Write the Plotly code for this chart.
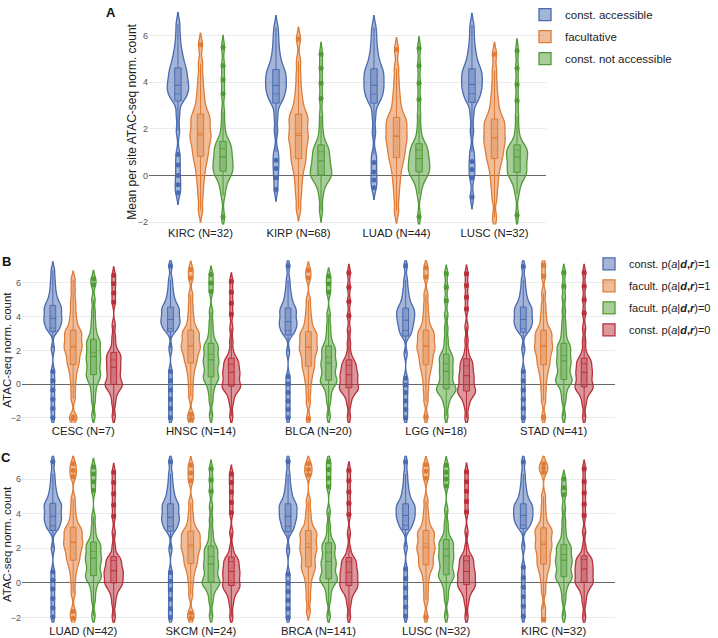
import plotly.graph_objects as go

# ---------------- data ----------------
A_CATS = ["KIRC (N=32)", "KIRP (N=68)", "LUAD (N=44)", "LUSC (N=32)"]
B_CATS = ["CESC (N=7)", "HNSC (N=14)", "BLCA (N=20)", "LGG (N=18)", "STAD (N=41)"]
C_CATS = ["LUAD (N=42)", "SKCM (N=24)", "BRCA (N=141)", "LUSC (N=32)", "KIRC (N=32)"]

A_NAMES = ["const. accessible", "facultative", "const. not accessible"]
B_NAMES = ["const. p(<i>a</i>|<b><i>d</i>,<i>r</i></b>)=1",
           "facult. p(<i>a</i>|<b><i>d</i>,<i>r</i></b>)=1",
           "facult. p(<i>a</i>|<b><i>d</i>,<i>r</i></b>)=0",
           "const. p(<i>a</i>|<b><i>d</i>,<i>r</i></b>)=0"]

# Panel A: per-site values for each cancer type (KIRC, KIRP, LUAD, LUSC)
A_ACC = [
    [-0.74, -0.4, 0.0, 0.45, 0.9, 1.9, 2.6, 3.19, 3.3, 3.42, 3.52, 3.62, 3.7, 3.79, 3.87, 3.97, 4.07, 4.18, 4.29, 4.4, 4.5, 4.61, 4.75, 4.9, 5.1, 5.3, 5.6, 6.0, 6.5],
    [-0.6, -0.1, 0.3, 0.65, 1.0, 1.9, 2.55, 3.1, 3.22, 3.35, 3.47, 3.58, 3.68, 3.77, 3.86, 3.96, 4.06, 4.16, 4.26, 4.36, 4.45, 4.54, 4.68, 4.85, 5.05, 5.3, 5.6, 5.95, 6.35],
    [-0.53, -0.2, 0.15, 0.55, 0.9, 1.85, 2.55, 3.1, 3.22, 3.35, 3.47, 3.58, 3.69, 3.78, 3.87, 3.97, 4.08, 4.19, 4.29, 4.39, 4.48, 4.57, 4.7, 4.87, 5.07, 5.3, 5.6, 5.95, 6.35],
    [-0.93, -0.1, 0.25, 0.6, 1.0, 1.9, 2.6, 3.13, 3.25, 3.38, 3.5, 3.61, 3.72, 3.81, 3.9, 4.0, 4.1, 4.2, 4.3, 4.4, 4.49, 4.57, 4.7, 4.87, 5.07, 5.3, 5.6, 6.0, 6.45],
]
A_FAC = [
    [-1.5, -0.9, -0.45, -0.1, 0.2, 0.45, 0.65, 0.82, 0.98, 1.13, 1.28, 1.43, 1.57, 1.66, 1.74, 1.88, 2.02, 2.16, 2.3, 2.43, 2.54, 2.63, 2.85, 3.1, 3.4, 3.75, 4.2, 4.8, 5.6],
    [-1.45, -0.9, -0.5, -0.15, 0.15, 0.38, 0.57, 0.72, 0.88, 1.05, 1.21, 1.37, 1.51, 1.62, 1.71, 1.86, 2.01, 2.16, 2.3, 2.43, 2.54, 2.63, 2.85, 3.1, 3.4, 3.8, 4.3, 4.9, 5.85],
    [-1.55, -0.95, -0.5, -0.15, 0.15, 0.4, 0.6, 0.76, 0.91, 1.06, 1.2, 1.34, 1.47, 1.58, 1.67, 1.8, 1.93, 2.06, 2.18, 2.3, 2.4, 2.49, 2.7, 2.95, 3.25, 3.6, 4.05, 4.6, 5.4],
    [-1.82, -1.0, -0.55, -0.2, 0.1, 0.35, 0.55, 0.72, 0.86, 1.0, 1.14, 1.28, 1.41, 1.51, 1.6, 1.73, 1.86, 1.99, 2.11, 2.23, 2.33, 2.42, 2.62, 2.86, 3.15, 3.5, 3.95, 4.5, 5.2],
]
A_NOT = [
    [-1.78, -0.85, -0.5, -0.25, -0.08, 0.03, 0.11, 0.18, 0.26, 0.34, 0.43, 0.53, 0.62, 0.7, 0.79, 0.89, 0.99, 1.1, 1.2, 1.29, 1.38, 1.46, 1.75, 2.15, 2.7, 3.5, 4.1, 4.7, 5.5],
    [-1.5, -0.9, -0.55, -0.32, -0.17, -0.08, -0.03, 0.01, 0.08, 0.16, 0.25, 0.35, 0.44, 0.53, 0.62, 0.72, 0.82, 0.93, 1.04, 1.14, 1.23, 1.31, 1.6, 2.0, 2.55, 3.3, 3.95, 4.6, 5.2],
    [-1.77, -0.8, -0.45, -0.22, -0.07, 0.03, 0.1, 0.15, 0.23, 0.31, 0.4, 0.49, 0.57, 0.65, 0.72, 0.81, 0.91, 1.01, 1.11, 1.2, 1.29, 1.36, 1.65, 2.05, 2.6, 3.25, 3.95, 4.7, 5.45],
    [-1.71, -0.8, -0.45, -0.22, -0.07, 0.02, 0.08, 0.13, 0.22, 0.32, 0.42, 0.52, 0.62, 0.71, 0.79, 0.87, 0.95, 1.03, 1.11, 1.18, 1.25, 1.31, 1.6, 2.0, 2.55, 3.2, 3.9, 4.6, 5.35],
]

# Panel B: (CESC, HNSC, BLCA, LGG, STAD)
B_C1 = [
    [-2.0, -1.45, -0.9, -0.35, 0.2, 0.75, 2.1, 3.11, 3.23, 3.37, 3.5, 3.62, 3.73, 3.82, 3.9, 4.03, 4.15, 4.27, 4.39, 4.5, 4.59, 4.67, 4.82, 5.0, 5.22, 5.5, 5.85, 6.25, 6.75],
    [-2.0, -1.45, -0.9, -0.35, 0.2, 0.75, 2.1, 3.11, 3.22, 3.35, 3.47, 3.58, 3.67, 3.75, 3.83, 3.95, 4.07, 4.19, 4.31, 4.42, 4.5, 4.57, 4.72, 4.9, 5.12, 5.4, 5.75, 6.2, 7.0],
    [-2.0, -1.5, -1.0, -0.5, 0.0, 0.45, 1.9, 2.91, 3.04, 3.17, 3.3, 3.42, 3.53, 3.62, 3.7, 3.83, 3.96, 4.09, 4.22, 4.34, 4.43, 4.51, 4.66, 4.85, 5.08, 5.36, 5.72, 6.2, 7.0],
    [-2.0, -1.5, -1.0, -0.5, -0.05, 0.35, 1.8, 2.85, 2.99, 3.14, 3.29, 3.43, 3.56, 3.68, 3.79, 3.9, 4.01, 4.12, 4.23, 4.33, 4.43, 4.51, 4.66, 4.85, 5.08, 5.36, 5.72, 6.2, 7.02],
    [-2.0, -1.45, -0.9, -0.35, 0.2, 0.75, 2.1, 3.07, 3.19, 3.32, 3.44, 3.56, 3.66, 3.75, 3.83, 3.95, 4.07, 4.19, 4.31, 4.42, 4.5, 4.57, 4.72, 4.9, 5.12, 5.4, 5.75, 6.2, 6.98],
]
B_F1 = [
    [-2.05, -1.95, -0.85, -0.3, 0.2, 0.6, 0.92, 1.15, 1.33, 1.52, 1.71, 1.89, 2.04, 2.16, 2.26, 2.4, 2.54, 2.7, 2.85, 2.99, 3.1, 3.2, 3.45, 3.75, 4.1, 4.55, 5.0, 5.6, 6.2],
    [-2.1, -1.8, -0.75, -0.2, 0.3, 0.7, 1.0, 1.25, 1.42, 1.6, 1.77, 1.94, 2.08, 2.18, 2.26, 2.4, 2.55, 2.7, 2.85, 2.99, 3.1, 3.2, 3.45, 3.8, 4.2, 4.7, 5.3, 6.3, 6.8],
    [-2.05, -1.1, -0.5, 0.0, 0.35, 0.65, 0.88, 1.06, 1.24, 1.43, 1.62, 1.8, 1.95, 2.07, 2.17, 2.31, 2.46, 2.61, 2.76, 2.9, 3.01, 3.11, 3.35, 3.65, 4.0, 4.45, 5.0, 6.3, 6.75],
    [-1.95, -1.0, -0.45, 0.0, 0.4, 0.7, 0.95, 1.15, 1.33, 1.51, 1.69, 1.86, 2.01, 2.13, 2.23, 2.37, 2.52, 2.67, 2.82, 2.96, 3.08, 3.2, 3.45, 3.8, 4.2, 4.7, 5.3, 6.35, 6.9],
    [-1.97, -1.0, -0.45, 0.0, 0.4, 0.7, 0.95, 1.15, 1.33, 1.51, 1.69, 1.86, 2.01, 2.13, 2.23, 2.37, 2.52, 2.67, 2.82, 2.96, 3.08, 3.2, 3.45, 3.8, 4.2, 4.7, 5.4, 6.4, 7.05],
]
B_F0 = [
    [-1.85, -1.0, -0.5, -0.1, 0.17, 0.35, 0.48, 0.56, 0.73, 0.9, 1.07, 1.24, 1.39, 1.52, 1.64, 1.8, 1.96, 2.12, 2.28, 2.43, 2.56, 2.66, 2.95, 3.3, 3.75, 4.3, 5.0, 5.9, 6.25],
    [-1.85, -1.0, -0.5, -0.15, 0.1, 0.26, 0.36, 0.43, 0.59, 0.76, 0.93, 1.1, 1.24, 1.35, 1.44, 1.6, 1.76, 1.92, 2.07, 2.21, 2.33, 2.42, 2.75, 3.15, 3.65, 4.3, 5.5, 6.0, 6.5],
    [-1.9, -1.05, -0.6, -0.25, -0.02, 0.1, 0.18, 0.23, 0.39, 0.56, 0.73, 0.9, 1.05, 1.16, 1.25, 1.41, 1.57, 1.73, 1.89, 2.04, 2.17, 2.27, 2.6, 3.0, 3.5, 4.15, 5.45, 5.95, 6.4],
    [-1.9, -1.25, -0.9, -0.65, -0.5, -0.4, -0.33, -0.28, -0.17, -0.04, 0.12, 0.3, 0.47, 0.63, 0.76, 0.92, 1.08, 1.24, 1.4, 1.55, 1.68, 1.78, 2.15, 2.65, 3.3, 4.1, 4.95, 5.75, 6.55],
    [-1.9, -1.0, -0.55, -0.2, 0.03, 0.15, 0.22, 0.27, 0.44, 0.62, 0.8, 0.98, 1.14, 1.27, 1.38, 1.54, 1.7, 1.86, 2.02, 2.17, 2.3, 2.42, 2.8, 3.2, 3.7, 4.35, 5.1, 5.8, 6.6],
]
B_C0 = [
    [-1.9, -1.15, -0.7, -0.4, -0.22, -0.12, -0.06, -0.02, 0.12, 0.27, 0.43, 0.59, 0.74, 0.87, 1.0, 1.14, 1.28, 1.42, 1.56, 1.69, 1.8, 1.88, 2.3, 2.8, 3.5, 4.85, 5.4, 5.95, 6.45],
    [-1.9, -1.15, -0.75, -0.48, -0.32, -0.22, -0.16, -0.12, 0.0, 0.13, 0.27, 0.41, 0.53, 0.62, 0.7, 0.82, 0.95, 1.08, 1.21, 1.34, 1.45, 1.54, 1.95, 2.55, 3.3, 4.15, 4.8, 5.45, 6.1],
    [-1.95, -1.2, -0.8, -0.55, -0.4, -0.31, -0.26, -0.22, -0.1, 0.03, 0.16, 0.29, 0.4, 0.49, 0.56, 0.68, 0.81, 0.94, 1.07, 1.2, 1.33, 1.44, 1.85, 2.45, 3.2, 4.05, 4.9, 5.75, 6.6],
    [-2.0, -1.35, -1.0, -0.75, -0.6, -0.51, -0.45, -0.41, -0.27, -0.13, 0.0, 0.14, 0.27, 0.39, 0.5, 0.63, 0.78, 0.93, 1.08, 1.23, 1.37, 1.5, 1.95, 2.6, 3.4, 4.45, 5.15, 5.85, 6.55],
    [-1.95, -1.2, -0.8, -0.52, -0.36, -0.26, -0.2, -0.16, -0.03, 0.1, 0.24, 0.38, 0.51, 0.61, 0.7, 0.82, 0.95, 1.08, 1.21, 1.34, 1.45, 1.54, 1.95, 2.55, 3.3, 4.2, 5.0, 5.8, 6.6],
]

# Panel C: (LUAD, SKCM, BRCA, LUSC, KIRC)
C_C1 = [
    [-1.97, -1.45, -0.9, -0.35, 0.15, 0.65, 2.0, 3.03, 3.16, 3.3, 3.43, 3.56, 3.67, 3.77, 3.85, 3.98, 4.11, 4.24, 4.37, 4.48, 4.55, 4.6, 4.78, 4.97, 5.2, 5.48, 5.85, 6.3, 7.0],
    [-2.0, -1.5, -0.95, -0.4, 0.1, 0.6, 1.95, 2.99, 3.12, 3.26, 3.39, 3.52, 3.63, 3.72, 3.79, 3.92, 4.05, 4.18, 4.31, 4.43, 4.51, 4.57, 4.75, 4.95, 5.18, 5.46, 5.83, 6.3, 7.0],
    [-2.0, -1.5, -1.0, -0.5, 0.0, 0.5, 1.9, 2.95, 3.09, 3.24, 3.39, 3.54, 3.67, 3.77, 3.85, 3.97, 4.09, 4.21, 4.33, 4.44, 4.52, 4.57, 4.75, 4.95, 5.18, 5.46, 5.83, 6.3, 7.02],
    [-1.93, -1.4, -0.85, -0.3, 0.25, 0.8, 2.05, 3.08, 3.21, 3.35, 3.49, 3.62, 3.73, 3.82, 3.9, 4.01, 4.12, 4.23, 4.34, 4.44, 4.51, 4.57, 4.75, 4.95, 5.18, 5.46, 5.83, 6.3, 6.99],
    [-1.93, -1.35, -0.8, -0.25, 0.3, 0.9, 2.1, 3.14, 3.26, 3.39, 3.51, 3.63, 3.74, 3.83, 3.9, 4.01, 4.12, 4.23, 4.34, 4.44, 4.51, 4.57, 4.75, 4.95, 5.18, 5.46, 5.83, 6.3, 6.99],
]
C_F1 = [
    [-2.05, -1.65, -0.6, 0.0, 0.5, 0.85, 1.12, 1.31, 1.48, 1.65, 1.82, 1.98, 2.12, 2.23, 2.32, 2.46, 2.6, 2.74, 2.88, 3.01, 3.12, 3.22, 3.5, 3.85, 4.3, 4.85, 6.15, 6.5, 6.88],
    [-2.05, -1.75, -0.7, -0.1, 0.35, 0.7, 0.95, 1.12, 1.29, 1.46, 1.63, 1.8, 1.94, 2.05, 2.13, 2.27, 2.41, 2.55, 2.68, 2.8, 2.9, 2.99, 3.25, 3.6, 4.05, 4.65, 5.9, 6.35, 6.8],
    [-1.65, -0.95, -0.4, 0.05, 0.4, 0.65, 0.82, 0.93, 1.12, 1.31, 1.5, 1.68, 1.84, 1.97, 2.07, 2.23, 2.39, 2.55, 2.71, 2.86, 2.96, 3.03, 3.35, 3.7, 4.15, 4.75, 6.25, 6.55, 6.88],
    [-1.97, -1.0, -0.45, 0.05, 0.45, 0.75, 0.93, 1.05, 1.22, 1.39, 1.56, 1.73, 1.88, 1.99, 2.07, 2.23, 2.39, 2.55, 2.71, 2.86, 2.96, 3.03, 3.35, 3.7, 4.15, 4.75, 6.05, 6.45, 6.83],
    [-2.1, -1.5, -0.55, 0.0, 0.4, 0.7, 0.94, 1.08, 1.27, 1.46, 1.65, 1.83, 1.99, 2.12, 2.23, 2.39, 2.55, 2.71, 2.87, 3.01, 3.11, 3.18, 3.5, 3.9, 4.4, 5.0, 6.4, 6.65, 6.89],
]
C_F0 = [
    [-1.9, -1.0, -0.5, -0.12, 0.12, 0.27, 0.36, 0.42, 0.58, 0.75, 0.92, 1.09, 1.23, 1.34, 1.43, 1.57, 1.72, 1.87, 2.02, 2.16, 2.27, 2.36, 2.75, 3.2, 3.8, 5.35, 5.85, 6.3, 6.7],
    [-1.9, -1.1, -0.65, -0.35, -0.15, -0.05, 0.0, 0.04, 0.2, 0.37, 0.54, 0.71, 0.87, 0.99, 1.09, 1.25, 1.41, 1.57, 1.73, 1.88, 2.01, 2.13, 2.55, 3.0, 3.65, 4.4, 5.3, 5.95, 6.6],
    [-1.9, -1.0, -0.55, -0.2, 0.03, 0.14, 0.19, 0.23, 0.39, 0.56, 0.73, 0.9, 1.05, 1.16, 1.24, 1.42, 1.6, 1.78, 1.96, 2.12, 2.24, 2.32, 2.75, 3.3, 4.1, 5.55, 6.05, 6.55, 7.0],
    [-1.9, -0.95, -0.45, -0.08, 0.17, 0.32, 0.41, 0.47, 0.64, 0.82, 1.0, 1.17, 1.33, 1.46, 1.56, 1.71, 1.86, 2.01, 2.16, 2.3, 2.42, 2.51, 2.95, 3.45, 4.2, 5.6, 6.0, 6.4, 6.8],
    [-1.9, -1.0, -0.5, -0.15, 0.1, 0.24, 0.31, 0.36, 0.52, 0.68, 0.84, 1.0, 1.14, 1.24, 1.31, 1.46, 1.61, 1.76, 1.91, 2.05, 2.16, 2.23, 2.6, 3.05, 3.6, 4.3, 5.1, 5.5, 6.0],
]
C_C0 = [
    [-1.95, -1.2, -0.75, -0.45, -0.25, -0.13, -0.05, 0.0, 0.12, 0.24, 0.36, 0.47, 0.57, 0.64, 0.7, 0.83, 0.96, 1.09, 1.22, 1.34, 1.44, 1.52, 2.1, 2.9, 3.85, 4.5, 5.15, 5.8, 6.4],
    [-1.95, -1.25, -0.85, -0.57, -0.4, -0.29, -0.21, -0.15, -0.02, 0.11, 0.24, 0.37, 0.49, 0.58, 0.66, 0.79, 0.92, 1.05, 1.18, 1.3, 1.41, 1.5, 2.0, 2.9, 4.05, 4.65, 5.25, 5.8, 6.3],
    [-1.95, -1.25, -0.85, -0.57, -0.4, -0.29, -0.21, -0.15, -0.03, 0.09, 0.21, 0.33, 0.44, 0.53, 0.61, 0.74, 0.87, 1.0, 1.13, 1.26, 1.37, 1.46, 1.95, 2.85, 3.95, 4.6, 5.25, 5.9, 6.5],
    [-1.95, -1.2, -0.8, -0.52, -0.35, -0.24, -0.16, -0.1, 0.02, 0.14, 0.26, 0.38, 0.49, 0.58, 0.66, 0.8, 0.94, 1.08, 1.22, 1.35, 1.46, 1.56, 2.05, 2.95, 4.1, 4.7, 5.3, 5.85, 6.42],
    [-1.95, -1.15, -0.7, -0.4, -0.2, -0.08, -0.01, 0.04, 0.16, 0.28, 0.4, 0.52, 0.63, 0.72, 0.8, 0.92, 1.04, 1.16, 1.28, 1.39, 1.48, 1.56, 2.1, 2.95, 3.9, 4.55, 5.2, 5.85, 6.6],
]

BLUE = (74, 107, 176)
ORANGE = (223, 124, 55)
GREEN = (79, 155, 53)
RED = (184, 48, 58)


def rgb(c, a=1.0):
    return "rgba(%d,%d,%d,%.2f)" % (c[0], c[1], c[2], a)


fig = go.Figure()


def add_panel(cats, series, names, colors, xa, ya, legend, showlegend, group_prefix):
    for k, (vals_list, name, col) in enumerate(zip(series, names, colors)):
        xs, ys = [], []
        for cat, vals in zip(cats, vals_list):
            xs += [cat] * len(vals)
            ys += vals
        fig.add_trace(go.Violin(
            x=xs, y=ys, name=name, xaxis=xa, yaxis=ya,
            legend=legend, showlegend=showlegend,
            legendgroup=group_prefix + name,
            alignmentgroup=xa, offsetgroup="%s-%d" % (xa, k),
            line=dict(color=rgb(col), width=1.3),
            fillcolor=rgb(col, 0.5),
            box=dict(visible=True, width=0.3, fillcolor=rgb(col, 0.35),
                     line=dict(color=rgb(col), width=1)),
            meanline=dict(visible=True, color=rgb(col), width=1),
            points="outliers", pointpos=0, jitter=0,
            marker=dict(color=rgb(col), size=5, line=dict(width=0)),
            bandwidth=0.25, spanmode="soft", scalemode="width",
            quartilemethod="inclusive", hoveron="violins+points",
        ))


add_panel(A_CATS, [A_ACC, A_FAC, A_NOT], A_NAMES, [BLUE, ORANGE, GREEN],
          "x", "y", "legend", True, "a-")
add_panel(B_CATS, [B_C1, B_F1, B_F0, B_C0], B_NAMES, [BLUE, ORANGE, GREEN, RED],
          "x2", "y2", "legend2", True, "b-")
add_panel(C_CATS, [C_C1, C_F1, C_F0, C_C0], B_NAMES, [BLUE, ORANGE, GREEN, RED],
          "x3", "y3", "legend2", False, "b-")

W, H = 718, 638


def px_x(p):
    return p / W


def px_y(p):
    return 1 - p / H


yax_common = dict(
    showgrid=True, gridcolor="#ebebeb", gridwidth=1,
    zeroline=True, zerolinecolor="#666666", zerolinewidth=1,
    showline=False, ticks="", ticklen=0, dtick=2, automargin=False,
    tickfont=dict(size=9, color="#555555"),
)
xax_common = dict(
    type="category", showgrid=False, zeroline=False, showline=False,
    ticks="", ticklen=0, automargin=False, tickfont=dict(size=11.3, color="#222222"),
)

fig.update_layout(
    width=W, height=H, autosize=False,
    margin=dict(l=0, r=0, t=0, b=0),
    paper_bgcolor="white", plot_bgcolor="white",
    font=dict(family="Arial, 'Liberation Sans', sans-serif", color="#222222"),
    violinmode="group", violingap=0.31, violingroupgap=0.05,
    xaxis=dict(domain=[px_x(149), px_x(546)], anchor="y",
               categoryorder="array", categoryarray=A_CATS, **xax_common),
    yaxis=dict(domain=[px_y(220), px_y(5)], anchor="x", range=[-2.11, 7.01], **yax_common),
    xaxis2=dict(domain=[px_x(22), px_x(615)], anchor="y2",
                categoryorder="array", categoryarray=B_CATS, **xax_common),
    yaxis2=dict(domain=[px_y(420.5), px_y(256)], anchor="x2", range=[-2.3, 7.35], **yax_common),
    xaxis3=dict(domain=[px_x(22), px_x(615)], anchor="y3",
                categoryorder="array", categoryarray=C_CATS, **xax_common),
    yaxis3=dict(domain=[px_y(622.5), px_y(453.7)], anchor="x3", range=[-2.3, 7.35], **yax_common),
    legend=dict(x=px_x(525), y=px_y(-7), xanchor="left", yanchor="top",
                bgcolor="rgba(0,0,0,0)", font=dict(size=11.5, color="#222222"),
                tracegroupgap=3),
    legend2=dict(x=px_x(589), y=px_y(245), xanchor="left", yanchor="top",
                 bgcolor="rgba(0,0,0,0)", font=dict(size=11, color="#222222"),
                 tracegroupgap=3),
    annotations=[
        dict(text="<b>A</b>", x=px_x(110.7), y=px_y(6), xref="paper", yref="paper",
             showarrow=False, xanchor="center", yanchor="middle", font=dict(size=13, color="#111111")),
        dict(text="<b>B</b>", x=px_x(6), y=px_y(257.5), xref="paper", yref="paper",
             showarrow=False, xanchor="center", yanchor="middle", font=dict(size=13, color="#111111")),
        dict(text="<b>C</b>", x=px_x(6), y=px_y(455), xref="paper", yref="paper",
             showarrow=False, xanchor="center", yanchor="middle", font=dict(size=13, color="#111111")),
        dict(text="Mean per site ATAC-seq norm. count", x=px_x(132), y=px_y(116),
             xref="paper", yref="paper", showarrow=False, textangle=-90,
             xanchor="center", yanchor="middle", font=dict(size=12, color="#222222")),
        dict(text="ATAC-seq norm. count", x=px_x(7), y=px_y(346.5),
             xref="paper", yref="paper", showarrow=False, textangle=-90,
             xanchor="center", yanchor="middle", font=dict(size=11.5, color="#222222")),
        dict(text="ATAC-seq norm. count", x=px_x(7), y=px_y(543),
             xref="paper", yref="paper", showarrow=False, textangle=-90,
             xanchor="center", yanchor="middle", font=dict(size=11.5, color="#222222")),
    ],
)

fig.write_html(
    "out.html",
    config={"displayModeBar": False},
    post_script="document.body.style.margin='0';document.body.style.padding='0';",
)
